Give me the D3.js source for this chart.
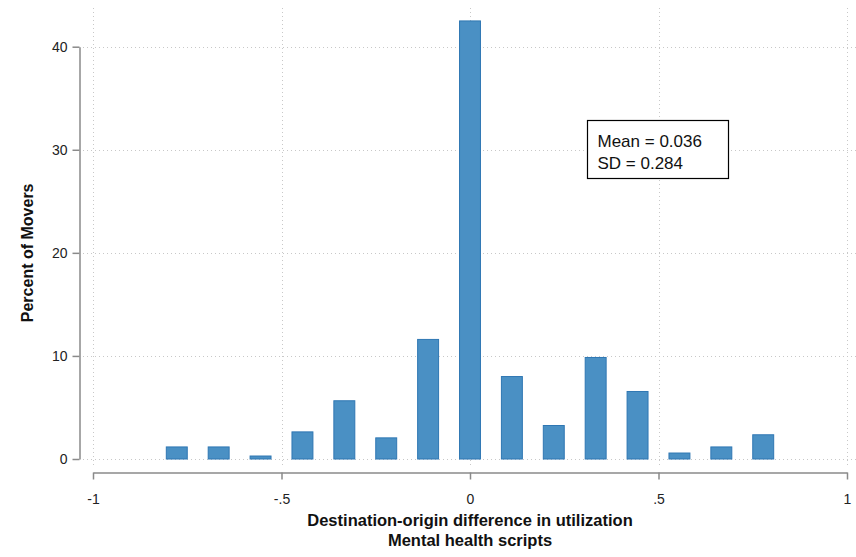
<!DOCTYPE html>
<html>
<head>
<meta charset="utf-8">
<script src="https://cdn.jsdelivr.net/npm/d3@7/dist/d3.min.js"></script>
<style>
  html, body { margin: 0; padding: 0; background: #fff; }
  svg { display: block; font-family: "Liberation Sans", Arial, sans-serif; }
</style>
</head>
<body>
<svg id="chart" width="856" height="557"></svg>
<script>
// Histogram bins: centres of the bins (multiples of 1/9) and percent of movers in each
const binCenters = [-7, -6, -5, -4, -3, -2, -1, 0, 1, 2, 3, 4, 5, 6, 7].map(k => k / 9);
const percents   = [1.17, 1.17, 0.29, 2.63, 5.65, 2.05, 11.6, 42.5, 8.0, 3.25, 9.85, 6.55, 0.58, 1.17, 2.35];
const binWidth = 1 / 9;

const xTicks = [-1, -0.5, 0, 0.5, 1];
const xTickLabels = ["-1", "-.5", "0", ".5", "1"];
const yTicks = [0, 10, 20, 30, 40];

const statsLines = ["Mean = 0.036", "SD = 0.284"];
const xTitleLines = ["Destination-origin difference in utilization", "Mental health scripts"];
const yTitle = "Percent of Movers";

const svg = d3.select("#chart");

const x = d3.scaleLinear().domain([-1, 1]).range([93, 847]);
const y = d3.scaleLinear().domain([0, 40]).range([459, 46.7]);

const gridColor = "#c8c8c8";
const axisColor = "#8a8a8a";

// Dotted grid
const grid = svg.append("g");
grid.selectAll("line.h").data(yTicks).join("line")
  .attr("x1", 83).attr("x2", 856)
  .attr("y1", d => Math.round(y(d)) + 0.5).attr("y2", d => Math.round(y(d)) + 0.5)
  .attr("stroke", gridColor).attr("stroke-width", 1).attr("stroke-dasharray", "1,3");
grid.selectAll("line.v").data(xTicks).join("line")
  .attr("x1", d => Math.round(x(d)) + 0.5).attr("x2", d => Math.round(x(d)) + 0.5)
  .attr("y1", 8).attr("y2", 468)
  .attr("stroke", gridColor).attr("stroke-width", 1).attr("stroke-dasharray", "1,3");

// Bars
svg.append("g").selectAll("rect").data(binCenters).join("rect")
  .attr("x", (d) => x(d - binWidth / 4))
  .attr("width", (d) => x(d + binWidth / 4) - x(d - binWidth / 4))
  .attr("y", (d, i) => y(percents[i]))
  .attr("height", (d, i) => y(0) - y(percents[i]))
  .attr("fill", "#4a90c4")
  .attr("stroke", "#2f77b3")
  .attr("stroke-width", 1);

// Y axis
const yAxis = d3.axisLeft(y).tickValues(yTicks).tickSize(7).tickSizeOuter(0).tickPadding(5);
const gy = svg.append("g").attr("transform", "translate(79.5,0)").call(yAxis);
gy.select(".domain").attr("stroke", axisColor).attr("stroke-width", 1.5);
gy.selectAll(".tick line").attr("stroke", axisColor).attr("stroke-width", 1.5);
gy.selectAll(".tick text").attr("font-size", 14).attr("fill", "#222")
  .attr("font-family", "'Liberation Sans', Arial, sans-serif");

// X axis
const xAxis = d3.axisBottom(x).tickValues(xTicks)
  .tickFormat((d, i) => xTickLabels[i]).tickSize(7).tickSizeOuter(0).tickPadding(15);
const gx = svg.append("g").attr("transform", "translate(0,472.5)").call(xAxis);
gx.select(".domain").attr("stroke", axisColor).attr("stroke-width", 1.5);
gx.selectAll(".tick line").attr("stroke", axisColor).attr("stroke-width", 1.5);
gx.selectAll(".tick text").attr("font-size", 14).attr("fill", "#222")
  .attr("font-family", "'Liberation Sans', Arial, sans-serif");

// Axis titles
svg.append("text")
  .attr("transform", `translate(33,${(y(0) + y(40)) / 2}) rotate(-90)`)
  .attr("text-anchor", "middle")
  .attr("font-size", 16).attr("font-weight", "bold").attr("fill", "#111")
  .text(yTitle);

svg.append("g").selectAll("text").data(xTitleLines).join("text")
  .attr("x", 470).attr("y", (d, i) => 526 + i * 19.5)
  .attr("text-anchor", "middle")
  .attr("font-size", 16.5).attr("font-weight", "bold").attr("fill", "#111")
  .text(d => d);

// Summary statistics box
const box = svg.append("g");
box.append("rect")
  .attr("x", 587.5).attr("y", 120.5).attr("width", 141).attr("height", 58)
  .attr("fill", "#fff").attr("stroke", "#000").attr("stroke-width", 1.2);
box.selectAll("text").data(statsLines).join("text")
  .attr("x", 597.5).attr("y", (d, i) => 147 + i * 21.5)
  .attr("font-size", 17).attr("fill", "#111")
  .text(d => d);
</script>
</body>
</html>
